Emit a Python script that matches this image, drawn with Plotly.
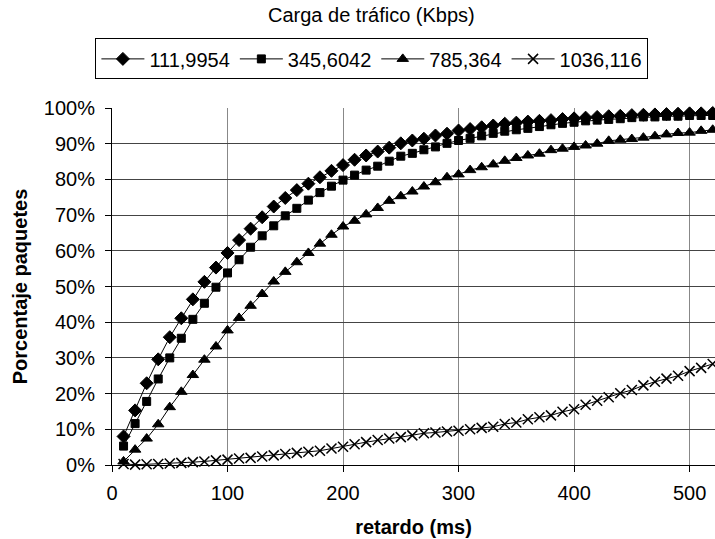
import plotly.graph_objects as go

delay_ms = [10, 20, 30, 40, 50, 60, 70, 80, 90, 100,
            110, 120, 130, 140, 150, 160, 170, 180, 190, 200,
            210, 220, 230, 240, 250, 260, 270, 280, 290, 300,
            310, 320, 330, 340, 350, 360, 370, 380, 390, 400,
            410, 420, 430, 440, 450, 460, 470, 480, 490, 500,
            510, 520]

series_names = ["111,9954", "345,6042", "785,364", "1036,116"]

load_111 = [8.0, 15.3, 22.9, 29.6, 35.8, 41.1, 46.4, 51.3, 55.3, 59.4,
            63.0, 66.2, 69.4, 72.4, 74.8, 77.0, 78.8, 80.6, 82.4, 84.0,
            85.5, 86.7, 87.8, 88.9, 90.1, 90.9, 91.4, 92.3, 92.8, 93.7,
            94.1, 94.6, 95.1, 95.6, 95.9, 96.2, 96.4, 96.6, 96.9, 97.1,
            97.3, 97.5, 97.7, 97.8, 98.0, 98.1, 98.2, 98.3, 98.4, 98.5,
            98.5, 98.6]

load_345 = [5.3, 11.6, 17.8, 24.1, 30.0, 35.5, 40.8, 45.3, 49.8, 53.8,
            57.5, 61.0, 64.2, 67.0, 69.8, 71.9, 74.2, 76.3, 78.1, 79.8,
            81.2, 82.6, 83.7, 85.1, 86.5, 87.3, 88.3, 89.1, 90.1, 90.9,
            91.5, 92.2, 92.9, 93.5, 93.9, 94.3, 94.8, 95.3, 95.7, 96.0,
            96.4, 96.6, 96.8, 97.0, 97.3, 97.5, 97.5, 97.7, 97.7, 97.9,
            97.9, 97.9]

load_785 = [1.0, 4.3, 7.4, 11.4, 16.2, 20.5, 25.2, 29.5, 33.2, 37.7,
            41.2, 44.6, 47.9, 51.4, 54.1, 56.8, 59.4, 62.0, 64.5, 66.8,
            68.4, 70.2, 72.0, 74.0, 75.3, 76.6, 78.0, 79.2, 80.6, 81.4,
            82.6, 83.4, 84.2, 85.2, 86.0, 86.7, 87.2, 88.2, 88.6, 89.1,
            89.5, 90.0, 90.8, 91.1, 91.3, 91.7, 92.1, 92.6, 93.0, 93.1,
            93.6, 93.9]

load_1036 = [0.3, 0.1, 0.2, 0.3, 0.4, 0.6, 0.8, 1.0, 1.3, 1.5,
             1.8, 2.0, 2.4, 2.7, 3.1, 3.4, 3.7, 4.0, 4.6, 5.1,
             5.8, 6.4, 7.0, 7.4, 7.8, 8.3, 8.9, 9.1, 9.4, 9.6,
             10.0, 10.4, 10.7, 11.5, 11.9, 12.8, 13.4, 13.9, 14.9, 15.6,
             16.9, 18.0, 19.0, 20.1, 21.0, 22.3, 23.3, 24.2, 25.0, 26.3,
             27.2, 28.3]

y_ticks = [0, 10, 20, 30, 40, 50, 60, 70, 80, 90, 100]
x_ticks = [0, 100, 200, 300, 400, 500]

FONT = "Liberation Sans, Arial, sans-serif"

series = [load_111, load_345, load_785, load_1036]
symbols = ["diamond", "square", "triangle-up", "x-thin"]
sizes = [10, 8, 10, 10]
mlw = [1, 1, 1, 1.5]

fig = go.Figure()
for name, vals, sym, sz, lw in zip(series_names, series, symbols, sizes, mlw):
    fig.add_trace(go.Scatter(
        x=delay_ms, y=vals, name=name, mode="lines+markers",
        line=dict(color="black", width=1),
        marker=dict(symbol=sym, size=sz, color="black",
                    line=dict(color="black", width=lw)),
        cliponaxis=False,
    ))

fig.update_layout(
    width=715, height=539,
    margin=dict(l=112, r=0, t=108, b=74),
    paper_bgcolor="white", plot_bgcolor="white",
    font=dict(family=FONT, size=20, color="black"),
    showlegend=True,
    legend=dict(
        orientation="h", x=0.431, xanchor="center", y=1.195, yanchor="top",
        bordercolor="black", borderwidth=1, bgcolor="white",
        font=dict(family=FONT, size=20, color="black"),
        itemwidth=43, tracegroupgap=0,
    ),
    annotations=[dict(
        text="Carga de tráfico (Kbps)", xref="paper", yref="paper",
        x=0.431, y=1.26, xanchor="center", yanchor="middle",
        showarrow=False, font=dict(family=FONT, size=20, color="black"),
    )],
)

fig.update_xaxes(
    range=[0, 522], tickvals=x_ticks, ticktext=[str(v) for v in x_ticks],
    showgrid=True, gridcolor="#888888", gridwidth=1,
    showline=True, linecolor="black", linewidth=1,
    ticks="outside", ticklen=6, tickcolor="black",
    ticklabelstandoff=4,
    zeroline=False,
    title=dict(text="<b>retardo (ms)</b>", font=dict(family=FONT, size=20), standoff=16),
)
fig.update_yaxes(
    range=[0, 100], tickvals=y_ticks, ticktext=[f"{v}%" for v in y_ticks],
    showgrid=True, gridcolor="#444444", gridwidth=1,
    showline=True, linecolor="black", linewidth=1,
    ticks="outside", ticklen=6, tickcolor="black",
    ticklabelstandoff=6,
    zeroline=False,
    title=dict(text="<b>Porcentaje paquetes</b>", font=dict(family=FONT, size=20), standoff=10),
)

fig.write_html("out.html")
